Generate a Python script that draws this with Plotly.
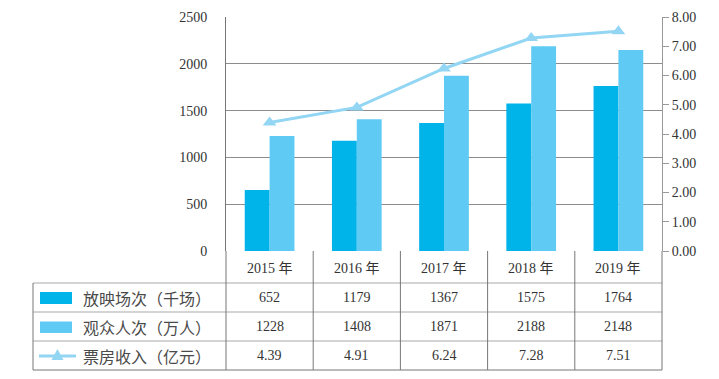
import plotly.graph_objects as go

years = ["2015 年", "2016 年", "2017 年", "2018 年", "2019 年"]
screenings = [652, 1179, 1367, 1575, 1764]
audience = [1228, 1408, 1871, 2188, 2148]
box_office = [4.39, 4.91, 6.24, 7.28, 7.51]
series_names = ["放映场次（千场）", "观众人次（万人）", "票房收入（亿元）"]
left_ticks = [0, 500, 1000, 1500, 2000, 2500]

C_DARK = "#00B4EA"
C_LIGHT = "#5FCAF4"
C_LINE = "#92D6F4"
GRID = "#8c8c8c"
TXT = "#333333"
FONT = "Liberation Serif, Noto Sans CJK SC"

OFF = 8  # page body margin on every side
W, H = 719 - 2 * OFF, 379 - 2 * OFF
# screen coordinates of plot area
SL, SR, ST, SB = 226, 662, 17, 251
L, R, T, B = SL - OFF, SR - OFF, ST - OFF, SB - OFF

def px(xs):
    return (xs - SL) / (SR - SL)

def py(ys):
    return (SB - ys) / (SB - ST)

fig = go.Figure()
fig.add_bar(x=years, y=screenings, marker=dict(color=C_DARK, line=dict(width=0)), name=series_names[0])
fig.add_bar(x=years, y=audience, marker=dict(color=C_LIGHT, line=dict(width=0)), name=series_names[1])
fig.add_scatter(x=years, y=box_office, yaxis="y2", mode="lines+markers",
                line=dict(color=C_LINE, width=3),
                marker=dict(symbol="triangle-up", size=12, color=C_LINE),
                name=series_names[2])

shapes = []
annotations = []

row_lines = [283, 312, 341, 370]
for i, yl in enumerate(row_lines):
    shapes.append(dict(type="line", xref="paper", yref="paper", x0=px(33), x1=1, y0=py(yl), y1=py(yl),
                       line=dict(color="#a8a8a8" if i < 3 else "#777777", width=1)))
shapes.append(dict(type="line", xref="paper", yref="paper", x0=px(33), x1=px(33), y0=py(283), y1=py(370),
                   line=dict(color="#777777", width=1)))
ncat = len(years)
for k in range(ncat + 1):
    xp = k / ncat
    shapes.append(dict(type="line", xref="paper", yref="paper", x0=xp, x1=xp, y0=py(251), y1=py(370),
                       line=dict(color="#777777", width=1)))

for yr in years:
    annotations.append(dict(x=yr, xref="x", y=py(268), yref="paper", text=yr, showarrow=False,
                            font=dict(family=FONT, size=14, color=TXT), xanchor="center", yanchor="middle"))

rows_c = [297.5, 326.5, 355.5]
rows_vals = [[str(v) for v in screenings], [str(v) for v in audience], ["%.2f" % v for v in box_office]]
for r, vals in enumerate(rows_vals):
    for yr, v in zip(years, vals):
        annotations.append(dict(x=yr, xref="x", y=py(rows_c[r]), yref="paper", text=v, showarrow=False,
                                font=dict(family=FONT, size=14, color=TXT), xanchor="center", yanchor="middle"))
    annotations.append(dict(x=px(81), xref="paper", y=py(rows_c[r]), yref="paper", text=series_names[r],
                            showarrow=False, font=dict(family="Noto Sans CJK SC", size=16, color="#4a4a4a"),
                            xanchor="left", yanchor="middle"))

shapes.append(dict(type="rect", xref="paper", yref="paper", x0=px(40), x1=px(72), y0=py(304), y1=py(292),
                   fillcolor=C_DARK, line=dict(width=0)))
shapes.append(dict(type="rect", xref="paper", yref="paper", x0=px(40), x1=px(72), y0=py(333), y1=py(321.5),
                   fillcolor=C_LIGHT, line=dict(width=0)))
shapes.append(dict(type="line", xref="paper", yref="paper", x0=px(39), x1=px(76), y0=py(356), y1=py(356),
                   line=dict(color=C_LINE, width=3)))
tx, ty = 57.5, 356
tri = "M %f,%f L %f,%f L %f,%f Z" % (px(tx - 6), py(ty + 4), px(tx + 6), py(ty + 4), px(tx), py(ty - 7))
shapes.append(dict(type="path", xref="paper", yref="paper", path=tri, fillcolor=C_LINE, line=dict(width=0)))

fig.update_layout(
    width=W, height=H,
    margin=dict(l=L, r=W - R, t=T, b=H - B, pad=0, autoexpand=False),
    plot_bgcolor="white", paper_bgcolor="white",
    showlegend=False,
    barmode="group", bargap=0.43, bargroupgap=0,
    font=dict(family=FONT, size=14, color=TXT),
    xaxis=dict(showticklabels=False, showgrid=False, zeroline=False, showline=False, ticks="",
               automargin=False),
    yaxis=dict(range=[0, 2500], tickvals=left_ticks, showgrid=True, gridcolor=GRID, gridwidth=1,
               zeroline=False, showline=True, linecolor="#777777", linewidth=1, ticks="",
               ticklabelstandoff=15, tickfont=dict(family=FONT, size=14, color=TXT), automargin=False),
    yaxis2=dict(range=[0, 8], dtick=1, tickformat=".2f", overlaying="y", side="right", showgrid=False,
                zeroline=False, showline=True, linecolor="#999999", linewidth=1, ticks="outside",
                ticklen=6, tickcolor="#999999", tickfont=dict(family=FONT, size=14, color=TXT),
                automargin=False),
    shapes=shapes, annotations=annotations,
)

fig.write_html("out.html")
